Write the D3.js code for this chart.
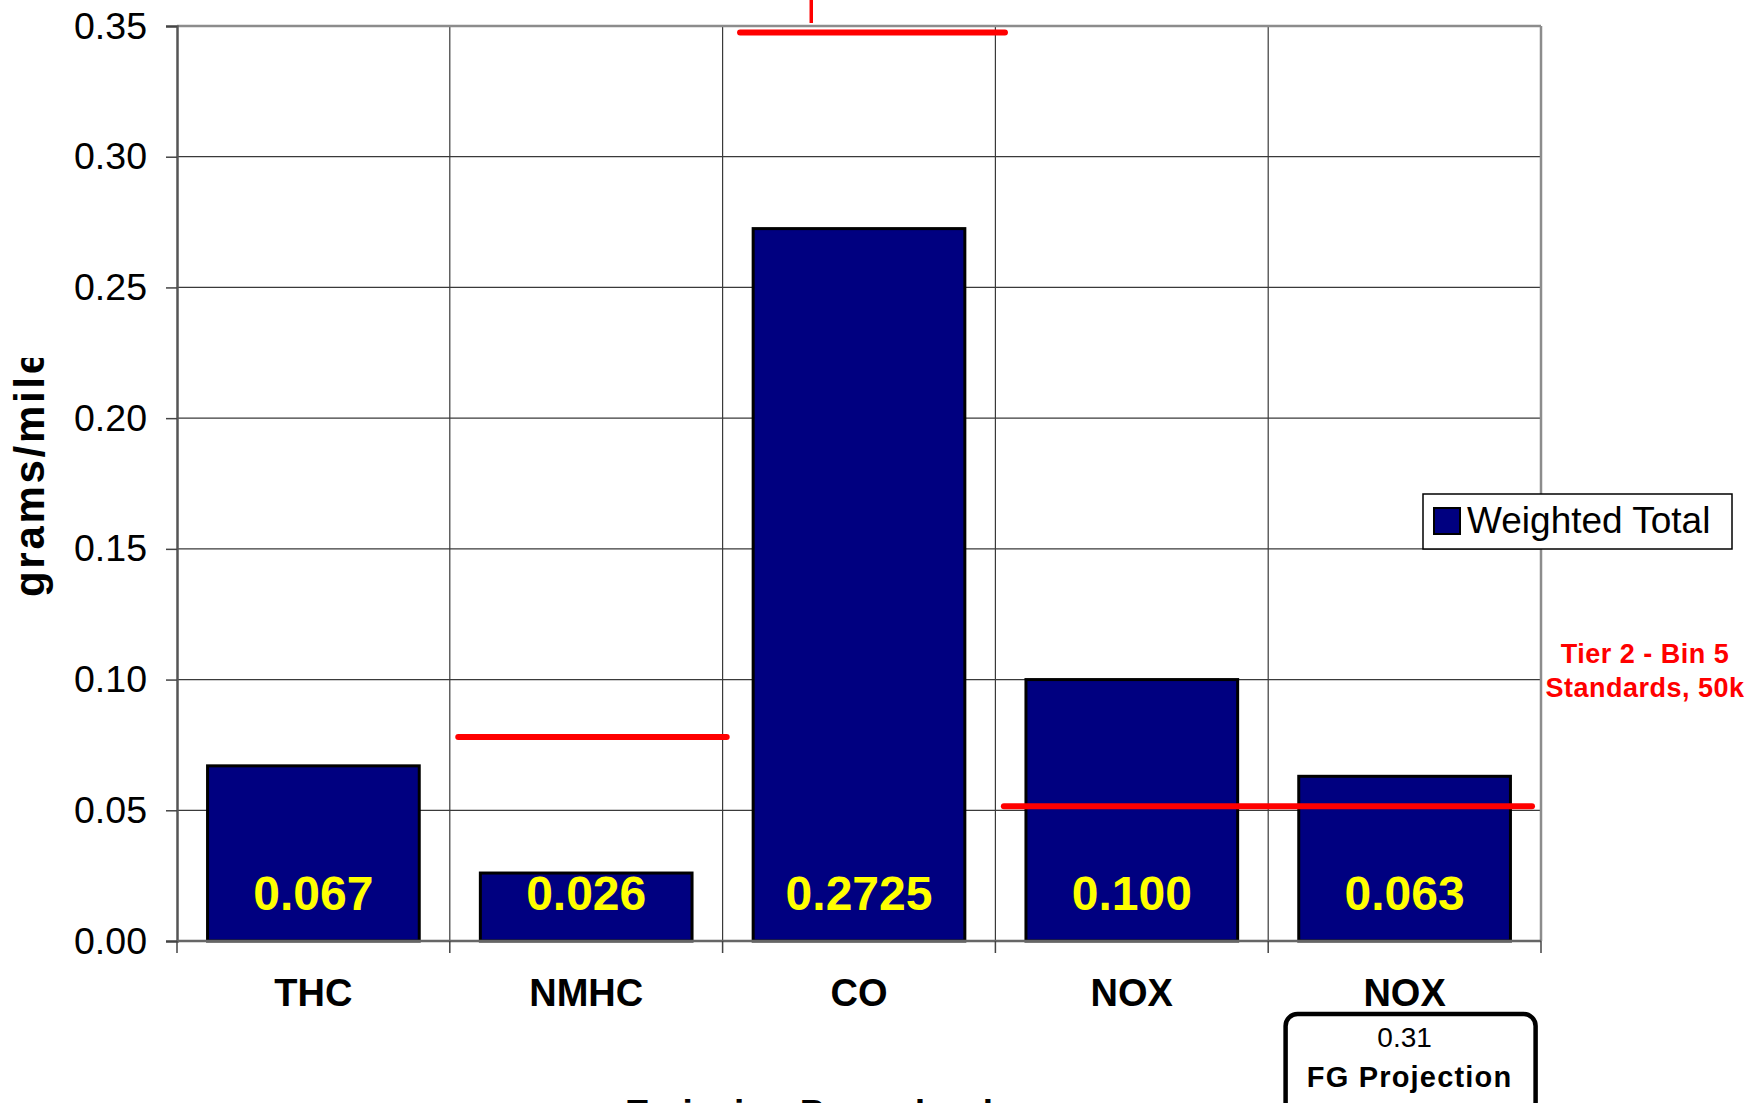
<!DOCTYPE html>
<html>
<head>
<meta charset="utf-8">
<script src="https://cdn.jsdelivr.net/npm/d3@7"></script>
<style>
  html, body { margin: 0; padding: 0; background: #fff; }
  svg { display: block; }
  text { font-family: "Liberation Sans", Arial, Helvetica, sans-serif; }
</style>
</head>
<body>
<svg id="chart" width="1762" height="1103"></svg>
<script>
// Weighted total emissions by constituent, with Tier 2 Bin 5 standard levels
const categories = ["THC", "NMHC", "CO", "NOX", "NOX"];
const weightedTotal = [0.067, 0.026, 0.2725, 0.100, 0.063];
const valueLabels = ["0.067", "0.026", "0.2725", "0.100", "0.063"];
const yTicks = [0.00, 0.05, 0.10, 0.15, 0.20, 0.25, 0.30, 0.35];
const standardNMHC = 0.078;   // drawn standard level over NMHC
const standardCO = 0.3475;    // CO standard sits off scale; marker at top
const standardNOX = 0.0515;   // NOX standard spans both NOX columns
const projectionValue = "0.31";
const projectionLabel = "FG Projection";
const legendLabel = "Weighted Total";
const noteLines = ["Tier 2 - Bin 5", "Standards, 50k"];
const yTitle = "grams/mile";
const xTitle = "Emission Procedural";

const svg = d3.select("#chart");
const plot = { left: 177, right: 1541, top: 26, bottom: 941 };

const x = d3.scaleBand()
  .domain(d3.range(categories.length))
  .range([plot.left, plot.right])
  .paddingInner(0).paddingOuter(0);
const bw = x.bandwidth();
const barInset = 0.112;           // gap on each side of a bar, fraction of band

const y = d3.scaleLinear().domain([0, 0.35]).range([plot.bottom, plot.top]);

// Horizontal gridlines
svg.append("g").selectAll("line")
  .data(yTicks.filter(d => d > 0 && d < 0.35))
  .join("line")
  .attr("x1", plot.left).attr("x2", plot.right)
  .attr("y1", d => y(d)).attr("y2", d => y(d))
  .attr("stroke", "#3a3a3a").attr("stroke-width", 1.2);

// Vertical gridlines at category boundaries
const bounds = d3.range(1, categories.length).map(i => x(i));
svg.append("g").selectAll("line")
  .data(bounds)
  .join("line")
  .attr("x1", d => d).attr("x2", d => d)
  .attr("y1", plot.top).attr("y2", plot.bottom)
  .attr("stroke", "#3a3a3a").attr("stroke-width", 1.2);

// Plot frame: top and right borders
svg.append("line")
  .attr("x1", plot.left).attr("x2", plot.right)
  .attr("y1", y(0.35)).attr("y2", y(0.35))
  .attr("stroke", "#8c8c8c").attr("stroke-width", 2.5);
svg.append("line")
  .attr("x1", plot.right).attr("x2", plot.right)
  .attr("y1", plot.top).attr("y2", plot.bottom)
  .attr("stroke", "#8c8c8c").attr("stroke-width", 2.5);

// Bars
svg.append("g").selectAll("rect")
  .data(weightedTotal)
  .join("rect")
  .attr("x", (d, i) => x(i) + bw * barInset)
  .attr("width", bw * (1 - 2 * barInset))
  .attr("y", d => y(d))
  .attr("height", d => y(0) - y(d))
  .attr("fill", "#000080")
  .attr("stroke", "#000").attr("stroke-width", 3);

// Value labels near the base of each bar
svg.append("g").selectAll("text")
  .data(weightedTotal)
  .join("text")
  .attr("x", (d, i) => x(i) + bw / 2)
  .attr("y", y(0) - 31)
  .attr("text-anchor", "middle")
  .attr("font-size", 48).attr("font-weight", "bold")
  .attr("fill", "#ffff00")
  .text((d, i) => valueLabels[i]);

// Y axis
const yAxis = d3.axisLeft(y)
  .tickValues(yTicks)
  .tickFormat(d3.format(".2f"))
  .tickSize(11).tickPadding(19);
const gy = svg.append("g")
  .attr("transform", `translate(${plot.left},0)`)
  .call(yAxis);
gy.select(".domain").attr("stroke", "#555").attr("stroke-width", 2.5);
gy.selectAll(".tick line").attr("stroke", "#444").attr("stroke-width", 1.5);
gy.selectAll(".tick text")
  .attr("font-size", 37.5).attr("fill", "#000")
  .attr("font-family", "'Liberation Sans', Arial, sans-serif");

// X axis baseline and boundary ticks
svg.append("line")
  .attr("x1", plot.left).attr("x2", plot.right)
  .attr("y1", y(0)).attr("y2", y(0))
  .attr("stroke", "#666").attr("stroke-width", 2.5);
svg.append("g").selectAll("line")
  .data([plot.left, ...bounds, plot.right])
  .join("line")
  .attr("x1", d => d).attr("x2", d => d)
  .attr("y1", y(0)).attr("y2", y(0) + 12)
  .attr("stroke", "#444").attr("stroke-width", 1.5);

// Category labels
svg.append("g").selectAll("text")
  .data(categories)
  .join("text")
  .attr("x", (d, i) => x(i) + bw / 2)
  .attr("y", 1006)
  .attr("text-anchor", "middle")
  .attr("font-size", 38).attr("font-weight", "bold")
  .attr("fill", "#000")
  .text(d => d);

// Standard level markers
const red = "#ff0000";
const std = svg.append("g")
  .attr("stroke", red).attr("stroke-width", 6).attr("stroke-linecap", "round");
std.append("line")
  .attr("x1", x(1) + bw * 0.031).attr("x2", x(2) + bw * 0.015)
  .attr("y1", y(standardNMHC)).attr("y2", y(standardNMHC));
std.append("line")
  .attr("x1", x(2) + bw * 0.064).attr("x2", x(3) + bw * 0.035)
  .attr("y1", y(standardCO)).attr("y2", y(standardCO));
std.append("line")
  .attr("x1", x(3) + bw * 0.031).attr("x2", x(4) + bw * 0.967)
  .attr("y1", y(standardNOX)).attr("y2", y(standardNOX));
// CO standard continues off the top of the scale
svg.append("line")
  .attr("x1", x(2) + bw * 0.325).attr("x2", x(2) + bw * 0.325)
  .attr("y1", y(0.35) - 3).attr("y2", y(0.37))
  .attr("stroke", red).attr("stroke-width", 3.5);

// Note beside the plot
svg.append("g").selectAll("text")
  .data(noteLines)
  .join("text")
  .attr("x", 1645)
  .attr("y", (d, i) => 663 + i * 34)
  .attr("text-anchor", "middle")
  .attr("font-size", 27).attr("font-weight", "bold")
  .attr("letter-spacing", 0.5)
  .attr("fill", red)
  .text(d => d);

// Legend
const lg = svg.append("g");
lg.append("rect")
  .attr("x", 1423).attr("y", 494).attr("width", 309).attr("height", 55)
  .attr("fill", "#fff").attr("stroke", "#000").attr("stroke-width", 1.5);
lg.append("rect")
  .attr("x", 1434).attr("y", 508).attr("width", 26).attr("height", 26)
  .attr("fill", "#000080").attr("stroke", "#000").attr("stroke-width", 2);
lg.append("text")
  .attr("x", 1467).attr("y", 533)
  .attr("font-size", 37).attr("fill", "#000")
  .text(legendLabel);

// Projection callout under the last column
const cx = x(4) + bw / 2;
svg.append("rect")
  .attr("x", cx - 119).attr("y", 1014).attr("width", 250).attr("height", 100)
  .attr("rx", 12).attr("ry", 12)
  .attr("fill", "#fff").attr("stroke", "#000").attr("stroke-width", 4.5);
svg.append("text")
  .attr("x", cx).attr("y", 1047)
  .attr("text-anchor", "middle")
  .attr("font-size", 28).attr("fill", "#000")
  .text(projectionValue);
svg.append("text")
  .attr("x", cx + 5).attr("y", 1087)
  .attr("text-anchor", "middle")
  .attr("font-size", 29).attr("font-weight", "bold")
  .attr("letter-spacing", 1.2)
  .attr("fill", "#000")
  .text(projectionLabel);

// Y title (clipped at its upper end)
svg.append("defs").append("clipPath").attr("id", "ytitle-clip")
  .append("rect").attr("x", 0).attr("y", 358).attr("width", 120).attr("height", 400);
svg.append("g").attr("clip-path", "url(#ytitle-clip)")
  .append("text")
  .attr("transform", "translate(44,597) rotate(-90)")
  .attr("font-size", 42).attr("font-weight", "bold")
  .attr("letter-spacing", 2.7)
  .attr("fill", "#000")
  .text(yTitle);

// X title, sitting at the lower edge
svg.append("text")
  .attr("x", 625).attr("y", 1126)
  .attr("font-size", 37).attr("font-weight", "bold")
  .attr("fill", "#000")
  .text(xTitle);
</script>
</body>
</html>
